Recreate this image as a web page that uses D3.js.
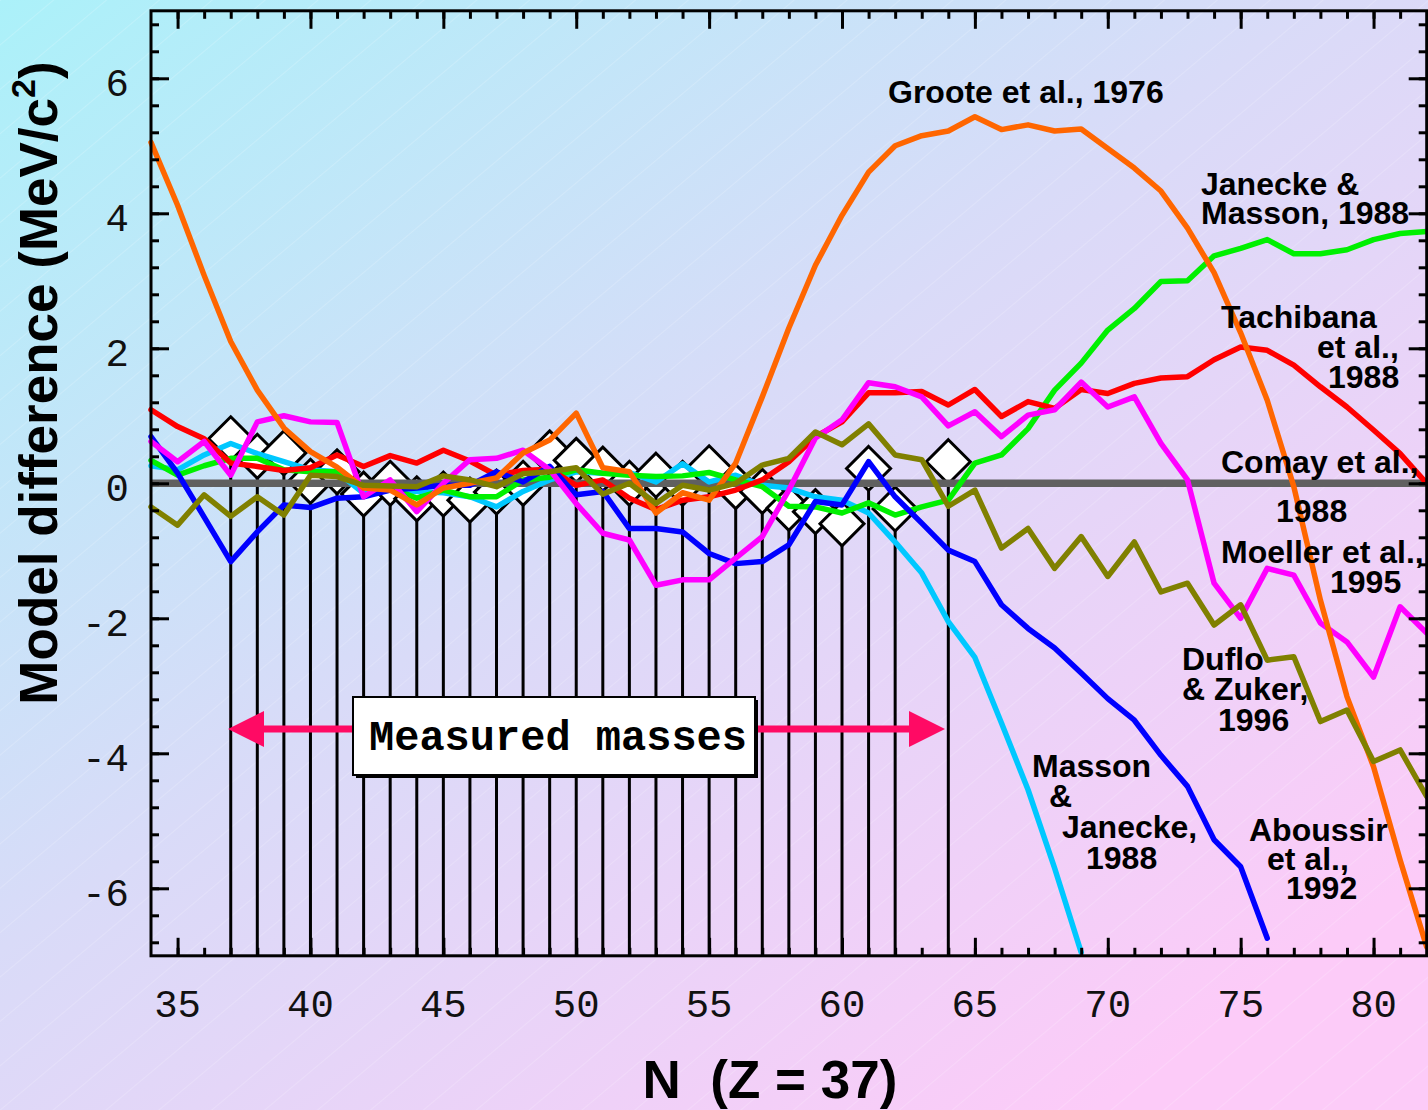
<!DOCTYPE html>
<html>
<head>
<meta charset="utf-8">
<script src="https://cdn.jsdelivr.net/npm/d3@7"></script>
<style>
html, body { margin: 0; padding: 0; overflow: hidden; }
svg { display: block; }
</style>
</head>
<body>
<svg id="chart" width="1428" height="1110"></svg>
<script>
// ---------------- DATA ----------------
const neutronNumbers = [34,35,36,37,38,39,40,41,42,43,44,45,46,47,48,49,50,51,52,53,54,55,56,57,58,59,60,61,62,63,64,65,66,67,68,69,70,71,72,73,74,75,76,77,78,79,80,81,82];

const grooteValues = [5.05,4.12,3.08,2.10,1.38,0.82,0.47,0.24,-0.07,-0.10,-0.32,-0.07,0.00,0.08,0.45,0.64,1.04,0.23,0.17,-0.44,-0.14,-0.25,0.30,1.28,2.30,3.23,3.97,4.61,5.00,5.15,5.22,5.43,5.24,5.31,5.22,5.25,4.96,4.67,4.33,3.78,3.12,2.23,1.23,-0.05,-1.73,-3.16,-4.20,-5.58,-6.87];

const janeckeMassonValues = [0.34,0.12,0.26,0.37,0.37,0.20,0.17,0.17,-0.05,-0.07,-0.22,-0.10,-0.20,-0.20,0.05,0.09,0.20,0.15,0.12,0.10,0.11,0.16,0.05,-0.05,-0.34,-0.35,-0.44,-0.29,-0.47,-0.35,-0.25,0.30,0.42,0.81,1.38,1.78,2.27,2.59,2.99,3.00,3.37,3.48,3.61,3.40,3.40,3.46,3.61,3.70,3.73];

const tachibanaValues = [1.09,0.84,0.66,0.30,0.25,0.19,0.23,0.42,0.25,0.41,0.30,0.49,0.33,0.12,0.19,0.21,-0.03,0.05,-0.22,-0.39,-0.25,-0.20,-0.10,0.05,0.32,0.69,0.91,1.34,1.34,1.36,1.16,1.39,0.99,1.21,1.11,1.39,1.33,1.48,1.56,1.58,1.83,2.02,1.97,1.75,1.43,1.13,0.79,0.44,0.00];

const comayValues = [0,0,0,0,0,0,0,0,0,0,0,0,0,0,0,0,0,0,0,0,0,0,0,0,0,0,0,0,0,0,0,0,0,0,0,0,0,0,0,0,0,0,0,0,0,0,0,0,0];

const moellerValues = [0.62,0.32,0.62,0.12,0.91,1.00,0.91,0.90,-0.20,0.05,-0.42,0.00,0.35,0.37,0.49,0.20,-0.30,-0.74,-0.84,-1.51,-1.43,-1.43,-1.11,-0.79,-0.10,0.67,0.94,1.49,1.43,1.28,0.85,1.06,0.69,1.01,1.09,1.50,1.13,1.28,0.59,0.05,-1.48,-2.00,-1.26,-1.36,-2.07,-2.35,-2.87,-1.83,-2.22];

const dufloZukerValues = [-0.35,-0.62,-0.17,-0.49,-0.20,-0.47,0.12,0.10,-0.03,-0.04,-0.05,0.11,0.05,-0.05,0.14,0.17,0.23,-0.16,0.00,-0.30,-0.03,-0.10,0.00,0.27,0.37,0.76,0.57,0.88,0.42,0.35,-0.34,-0.10,-0.96,-0.67,-1.26,-0.79,-1.38,-0.87,-1.61,-1.48,-2.10,-1.80,-2.62,-2.57,-3.53,-3.36,-4.12,-3.95,-4.64];

const massonJaneckeValues = [0.26,0.20,0.42,0.59,0.44,0.32,0.20,0.17,-0.15,-0.10,-0.12,-0.14,-0.20,-0.35,-0.12,0.05,0.17,0.15,0.16,0.02,0.29,0.02,0.12,-0.03,-0.07,-0.20,-0.25,-0.44,-0.87,-1.33,-2.05,-2.58,-3.55,-4.54,-5.70,-6.95,null,null,null,null,null,null,null,null,null,null,null,null,null];

const aboussirValues = [0.69,0.15,-0.50,-1.16,-0.72,-0.32,-0.36,-0.22,-0.20,-0.10,-0.07,-0.03,-0.03,0.17,0.02,0.25,-0.17,-0.12,-0.67,-0.67,-0.72,-1.04,-1.19,-1.16,-0.91,-0.27,-0.32,0.32,-0.20,-0.59,-0.99,-1.16,-1.80,-2.15,-2.44,-2.81,-3.19,-3.51,-4.03,-4.49,-5.28,-5.68,-6.74,null,null,null,null,null,null];

const measuredN      = [37,38,39,40,41,42,43,44,45,46,47,48,49,50,51,52,53,54,55,56,57,58,59,60,61,62,64];
const measuredValues = [0.66,0.40,0.45,0.03,0.17,-0.16,0.00,-0.23,-0.16,-0.25,-0.13,0.00,0.45,0.34,0.21,0.00,0.12,0.00,0.23,-0.05,-0.12,-0.37,-0.42,-0.60,0.22,-0.38,0.32];

const xTickLabels = [35,40,45,50,55,60,65,70,75,80];
const yTickLabels = [-6,-4,-2,0,2,4,6];

const seriesNames  = ["Comay", "Masson & Janecke", "Janecke & Masson", "Tachibana", "Aboussir", "Moeller", "Groote", "Duflo & Zuker"];
const seriesColors = ["#606060", "#00c8ff", "#00f000", "#ff0000", "#0000ff", "#ff00ff", "#ff6600", "#808000"];
const seriesValues = [comayValues, massonJaneckeValues, janeckeMassonValues, tachibanaValues, aboussirValues, moellerValues, grooteValues, dufloZukerValues];

// ---------------- LAYOUT ----------------
const W = 1428, H = 1110;
const plotLeft = 151, plotRight = 1426.7, plotTop = 10.8, plotBottom = 955.8;

const svg = d3.select("#chart");
const defs = svg.append("defs");
const grad = defs.append("linearGradient").attr("id", "bg")
  .attr("gradientUnits", "userSpaceOnUse")
  .attr("x1", 0).attr("y1", 0).attr("x2", 900).attr("y2", 1250);
grad.append("stop").attr("offset", "0%").attr("stop-color", "#abf1f9");
grad.append("stop").attr("offset", "50%").attr("stop-color", "#d9dbf8");
grad.append("stop").attr("offset", "100%").attr("stop-color", "#fccbf8");
svg.append("rect").attr("width", W).attr("height", H).attr("fill", "url(#bg)");

// faint diagonal texture
const pat = defs.append("pattern").attr("id", "tex").attr("patternUnits", "userSpaceOnUse")
  .attr("width", 34).attr("height", 34).attr("patternTransform", "rotate(-40)");
pat.append("line").attr("x1", 0).attr("y1", 0).attr("x2", 34).attr("y2", 0)
  .attr("stroke", "#ffffff").attr("stroke-width", 1).attr("stroke-opacity", 0.35);
svg.append("rect").attr("width", W).attr("height", H).attr("fill", "url(#tex)");

const x = d3.scaleLinear().domain([34, 82]).range([plotLeft, plotRight]);
const y = d3.scaleLinear().domain([-7, 7]).range([plotBottom, plotTop]);

// ---------------- MEASURED MASSES (stems + diamonds) ----------------
const dHalf = 22;
const measured = measuredN.map((n, i) => ({ n, v: measuredValues[i] }));
const mg = svg.append("g");
mg.selectAll("line.stem").data(measured).join("line")
  .attr("class", "stem")
  .attr("x1", d => x(d.n)).attr("x2", d => x(d.n))
  .attr("y1", d => y(d.v) + dHalf).attr("y2", y(-7))
  .attr("stroke", "#000").attr("stroke-width", 3);
mg.selectAll("path.dia").data(measured).join("path")
  .attr("class", "dia")
  .attr("d", d => {
    const cx = x(d.n), cy = y(d.v);
    return `M${cx},${cy - dHalf}L${cx + dHalf},${cy}L${cx},${cy + dHalf}L${cx - dHalf},${cy}Z`;
  })
  .attr("fill", "#fff").attr("stroke", "#000").attr("stroke-width", 3).attr("stroke-linejoin", "miter");

// ---------------- MODEL LINES ----------------
const line = d3.line()
  .defined(d => d.v !== null)
  .x(d => x(d.n)).y(d => y(d.v));

const lg = svg.append("g");
seriesValues.forEach((vals, si) => {
  const pts = neutronNumbers.map((n, i) => ({ n, v: vals[i] }));
  lg.append("path")
    .attr("d", line(pts))
    .attr("fill", "none")
    .attr("stroke", seriesColors[si])
    .attr("stroke-width", si === 0 ? 7.5 : 5.5)
    .attr("stroke-linejoin", "round")
    .attr("stroke-linecap", si === 0 ? "butt" : "round");
});

// ---------------- AXES (inward ticks on all four sides) ----------------
const yMinor = d3.range(-17, 18).map(i => +(i * 0.4).toFixed(1));
const yMajor = yTickLabels;
const xMinor = d3.range(35, 82);
const xMajor = xTickLabels;

function styleAxis(g) {
  g.select(".domain").remove();
  g.selectAll(".tick line").attr("stroke", "#000").attr("stroke-width", 3);
  g.selectAll(".tick text").remove();
}
svg.append("g").attr("transform", `translate(${plotLeft},0)`).call(d3.axisLeft(y).tickValues(yMinor).tickSize(-8)).call(styleAxis);
svg.append("g").attr("transform", `translate(${plotLeft},0)`).call(d3.axisLeft(y).tickValues(yMajor).tickSize(-18)).call(styleAxis);
svg.append("g").attr("transform", `translate(${plotRight},0)`).call(d3.axisRight(y).tickValues(yMinor).tickSize(-8)).call(styleAxis);
svg.append("g").attr("transform", `translate(${plotRight},0)`).call(d3.axisRight(y).tickValues(yMajor).tickSize(-18)).call(styleAxis);
svg.append("g").attr("transform", `translate(0,${plotTop})`).call(d3.axisTop(x).tickValues(xMinor).tickSize(-8)).call(styleAxis);
svg.append("g").attr("transform", `translate(0,${plotTop})`).call(d3.axisTop(x).tickValues(xMajor).tickSize(-18)).call(styleAxis);
svg.append("g").attr("transform", `translate(0,${plotBottom})`).call(d3.axisBottom(x).tickValues(xMinor).tickSize(-8)).call(styleAxis);
svg.append("g").attr("transform", `translate(0,${plotBottom})`).call(d3.axisBottom(x).tickValues(xMajor).tickSize(-18)).call(styleAxis);

svg.append("rect")
  .attr("x", plotLeft).attr("y", plotTop).attr("width", plotRight - plotLeft).attr("height", plotBottom - plotTop)
  .attr("fill", "none").attr("stroke", "#000").attr("stroke-width", 3);

// tick labels
const tickFont = "'Liberation Mono', 'Courier New', monospace";
svg.append("g").selectAll("text").data(xTickLabels).join("text")
  .attr("x", d => x(d)).attr("y", 1017)
  .attr("text-anchor", "middle")
  .attr("font-family", tickFont).attr("font-size", 39).attr("fill", "#111")
  .text(d => d);
svg.append("g").selectAll("text").data(yTickLabels).join("text")
  .attr("x", 129).attr("y", d => y(d) + 18)
  .attr("text-anchor", "end")
  .attr("font-family", tickFont).attr("font-size", 39).attr("fill", "#111")
  .text(d => d);

// axis titles
const boldFont = "'Liberation Sans', Arial, Helvetica, sans-serif";
svg.append("text")
  .attr("x", 770).attr("y", 1098)
  .attr("text-anchor", "middle")
  .attr("font-family", boldFont).attr("font-weight", "bold").attr("font-size", 53)
  .style("white-space", "pre")
  .text("N  (Z = 37)");

const yt = svg.append("text")
  .attr("transform", "translate(57,383) rotate(-90)")
  .attr("text-anchor", "middle")
  .attr("font-family", boldFont).attr("font-weight", "bold").attr("font-size", 53);
yt.append("tspan").text("Model difference (MeV/c");
yt.append("tspan").attr("font-size", 34).attr("dy", -22).text("2");
yt.append("tspan").attr("dy", 22).text(")");

// ---------------- ANNOTATION LABELS (one text per model, lines as tspans) ----------------
const labels = [
  { lines: [["Groote et al., 1976", 888, 103]] },
  { lines: [["Janecke &", 1201, 195], ["Masson, 1988", 1201, 224]] },
  { lines: [["Tachibana", 1221, 328], ["et al.,", 1317, 358], ["1988", 1328, 388]] },
  { lines: [["Comay et al.,", 1221, 473], ["1988", 1276, 522]] },
  { lines: [["Moeller et al.,", 1221, 563], ["1995", 1330, 593]] },
  { lines: [["Duflo", 1182, 670], ["& Zuker,", 1182, 700], ["1996", 1218, 731]] },
  { lines: [["Masson", 1032, 777], ["&", 1049, 807], ["Janecke,", 1062, 838], ["1988", 1086, 869]] },
  { lines: [["Aboussir", 1249, 841], ["et al.,", 1267, 870], ["1992", 1286, 899]] }
];
const labG = svg.append("g");
labels.forEach(lab => {
  const t = labG.append("text")
    .attr("font-family", boldFont).attr("font-weight", "bold").attr("font-size", 32)
    .attr("fill", "#000");
  lab.lines.forEach(([s, lx, ly]) => {
    t.append("tspan").attr("x", lx).attr("y", ly).text(s);
  });
});

// ---------------- "Measured masses" box and arrows ----------------
const arrowColor = "#ff0a64";
const ay = 729;
svg.append("line").attr("x1", 262).attr("x2", 912).attr("y1", ay).attr("y2", ay)
  .attr("stroke", arrowColor).attr("stroke-width", 7);
svg.append("path").attr("d", `M228,${ay}L264,${ay - 18}L264,${ay + 18}Z`).attr("fill", arrowColor);
svg.append("path").attr("d", `M945,${ay}L909,${ay - 18}L909,${ay + 18}Z`).attr("fill", arrowColor);

svg.append("rect").attr("x", 356).attr("y", 700).attr("width", 402).attr("height", 78).attr("fill", "#000");
svg.append("rect").attr("x", 353).attr("y", 697).attr("width", 402).attr("height", 78)
  .attr("fill", "#fff").attr("stroke", "#000").attr("stroke-width", 2);
svg.append("text")
  .attr("x", 558).attr("y", 750)
  .attr("text-anchor", "middle")
  .attr("font-family", "'Liberation Mono', 'Courier New', monospace")
  .attr("font-weight", "bold").attr("font-size", 42)
  .attr("fill", "#000")
  .text("Measured masses");
</script>
</body>
</html>
